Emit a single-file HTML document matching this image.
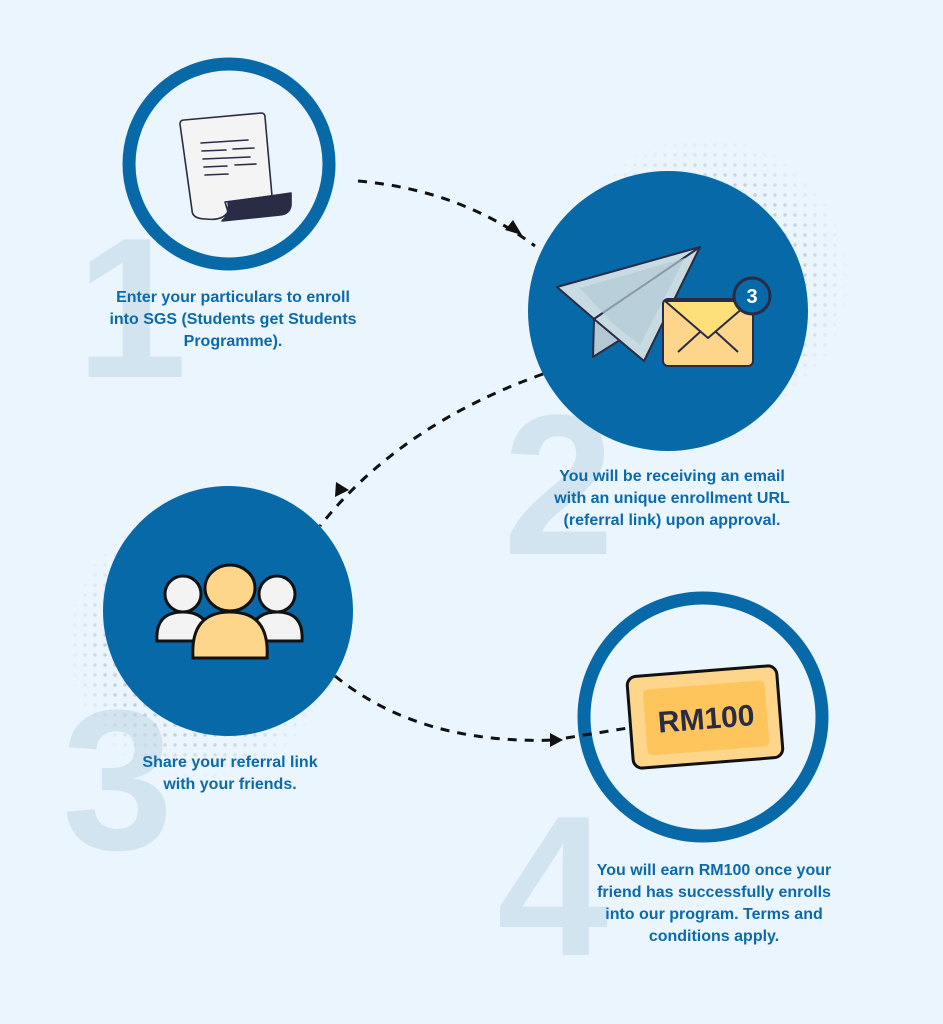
<!DOCTYPE html>
<html><head><meta charset="utf-8"><style>
html,body{margin:0;padding:0}
body{width:943px;height:1024px;background:#eaf5fd;position:relative;overflow:hidden;font-family:"Liberation Sans",sans-serif}
svg{position:absolute;left:0;top:0}
.t{position:absolute;color:#0c6aab;font-weight:bold;font-size:16px;line-height:22px;text-align:center;white-space:nowrap;transform:translateX(-50%)}
</style></head><body>
<svg width="943" height="1024" viewBox="0 0 943 1024">
<defs>
<pattern id="dots" width="10" height="10" patternUnits="userSpaceOnUse"><circle cx="5" cy="5" r="1.7" fill="#c6ced6"/></pattern>
<radialGradient id="fade" cx="0.5" cy="0.5" r="0.5"><stop offset="0.7" stop-color="#fff"/><stop offset="1" stop-color="#fff" stop-opacity="0"/></radialGradient>
<mask id="m1"><circle cx="705" cy="280" r="145" fill="url(#fade)"/></mask>
<mask id="m2"><circle cx="200" cy="645" r="135" fill="url(#fade)"/></mask>
</defs>
<g font-family="Liberation Sans, sans-serif" font-weight="bold" fill="#d3e4f1">
<text x="76" y="377" font-size="200">1</text>
<text x="503" y="554" font-size="200">2</text>
<text x="62" y="849" font-size="200">3</text>
<text x="497" y="955" font-size="200">4</text>
</g>
<rect x="540" y="130" width="320" height="320" fill="url(#dots)" mask="url(#m1)"/>
<rect x="60" y="500" width="290" height="290" fill="url(#dots)" mask="url(#m2)"/>
<circle cx="229" cy="164" r="100" fill="#eaf5fd" stroke="#0769a8" stroke-width="13"/>
<circle cx="668" cy="311" r="140" fill="#0769a8"/>
<circle cx="228" cy="611" r="125" fill="#0769a8"/>
<circle cx="703" cy="717" r="119" fill="#eaf5fd" stroke="#0769a8" stroke-width="13"/>
<g fill="none" stroke="#111" stroke-width="3" stroke-dasharray="9 8">
<path d="M358 181 Q460 190 535 246"/>
<path d="M543 374 Q400 425 320 526"/>
<path d="M335 676 Q420 745 555 740"/>
<path d="M566 738 L628 728"/>
</g>
<g fill="#111">
<path d="M522 235 L505 230 L513 220 Z"/>
<path d="M335 497 L336 482 L349 490 Z"/>
<path d="M563 740 L550 733 L550 747 Z"/>
</g>
<g stroke="#2a2b45" stroke-width="1.6" stroke-linejoin="round">
<path d="M180 124 Q180 120 184 120 L261 113 Q265 113 265 117 L272 196 L225 202 L228 212 Q222 221 206 219 Q192 219 192 210 Z" fill="#f4f4f4"/>
<path d="M228 202 L291 193 L291 205 Q290 214 280 215 L222 221 Q230 214 228 202 Z" fill="#2a2b45"/>
</g>
<g stroke="#2a2b45" stroke-width="1.6" stroke-linecap="round">
<path d="M201 143 L248 140"/><path d="M202 151 L226 150 M233 149 L254 148"/><path d="M203 159 L250 157"/><path d="M204 167 L227 166 M235 165 L256 164"/><path d="M205 175 L228 174"/>
</g>
<g stroke="#2a2b45" stroke-width="2" stroke-linejoin="round">
<path d="M594 319 L593 357 L620 340 Z" fill="#b3c8d2"/>
<path d="M557 287 L700 247 L594 319 Z" fill="#c9dbe2"/>
<path d="M594 319 L700 247 L644 361 Z" fill="#c9dbe2"/>
</g>
<path d="M580 288 L685 258 L640 345 L612 323 Z" fill="#b2cbd6" opacity="0.7"/>
<g stroke="#2a2b45" stroke-width="2" stroke-linejoin="round">
<rect x="663" y="299" width="90" height="67" rx="5" fill="#fdd58b"/>
<path d="M665 301 L708 338 L751 301 Z" fill="#fde07a"/>
<path d="M678 352 L700 332 M738 352 L716 332" fill="none"/>
<circle cx="752" cy="296" r="18" fill="#0769a8" stroke-width="3"/>
</g>
<text x="752" y="303" font-family="Liberation Sans, sans-serif" font-weight="bold" font-size="20" fill="#fff" text-anchor="middle">3</text>
<g stroke="#111" stroke-width="3">
<path d="M157 641 Q155 612 183 612 Q210 612 210 641 Z" fill="#f3f3f3"/>
<circle cx="183" cy="594" r="18" fill="#f3f3f3"/>
<path d="M250 641 Q250 612 277 612 Q304 612 302 641 Z" fill="#f3f3f3"/>
<circle cx="277" cy="594" r="18" fill="#f3f3f3"/>
<path d="M193 658 Q190 612 230 612 Q270 612 267 658 Z" fill="#fdd58b"/>
<ellipse cx="230" cy="588" rx="25" ry="23" fill="#fdd58b"/>
</g>
<g transform="rotate(-4.5 705 717)">
<rect x="630" y="671" width="150" height="92" rx="9" fill="#fdd58b" stroke="#111" stroke-width="3"/>
<rect x="645" y="685" width="122" height="66" rx="5" fill="#fdc55c"/>
<text x="706" y="729" font-family="Liberation Sans, sans-serif" font-weight="bold" font-size="30" fill="#2a2b45" text-anchor="middle">RM100</text>
</g>
</svg>
<div class="t" style="left:233px;top:287px">Enter your particulars to enroll<br>into SGS (Students get Students<br>Programme).</div>
<div class="t" style="left:672px;top:466px">You will be receiving an email<br>with an unique enrollment URL<br>(referral link) upon approval.</div>
<div class="t" style="left:230px;top:752px">Share your referral link<br>with your friends.</div>
<div class="t" style="left:714px;top:860px">You will earn RM100 once your<br>friend has successfully enrolls<br>into our program. Terms and<br>conditions apply.</div>
</body></html>
